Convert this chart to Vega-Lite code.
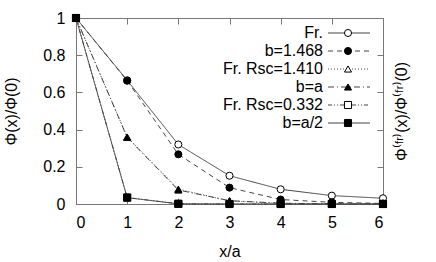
{
  "$schema": "https://vega.github.io/schema/vega-lite/v6.json",
  "autosize": "none",
  "width": 307,
  "height": 186,
  "padding": {"left": 76, "top": 18, "right": 53, "bottom": 58},
  "background": "white",
  "config": {
    "font": "Liberation Sans",
    "view": {"stroke": null},
    "axis": {
      "labelFont": "Liberation Sans", "titleFont": "Liberation Sans",
      "labelFontSize": 16, "titleFontSize": 16, "titleFontWeight": "normal",
      "labelColor": "#000", "titleColor": "#000",
      "domainColor": "#777", "tickColor": "#777", "tickSize": -6, "grid": false
    },
    "legend": {"labelFont": "Liberation Sans", "labelFontSize": 16, "labelColor": "#000"}
  },
  "data": {"values": [
    {"series": "Fr.", "x": 0, "y": 1}, {"series": "Fr.", "x": 1, "y": 0.665}, {"series": "Fr.", "x": 2, "y": 0.32}, {"series": "Fr.", "x": 3, "y": 0.152}, {"series": "Fr.", "x": 4, "y": 0.079}, {"series": "Fr.", "x": 5, "y": 0.045}, {"series": "Fr.", "x": 6, "y": 0.031},
    {"series": "b=1.468", "x": 0, "y": 1}, {"series": "b=1.468", "x": 1, "y": 0.663}, {"series": "b=1.468", "x": 2, "y": 0.267}, {"series": "b=1.468", "x": 3, "y": 0.088}, {"series": "b=1.468", "x": 4, "y": 0.024}, {"series": "b=1.468", "x": 5, "y": 0.009}, {"series": "b=1.468", "x": 6, "y": 0.003},
    {"series": "Fr. Rsc=1.410", "x": 0, "y": 1}, {"series": "Fr. Rsc=1.410", "x": 1, "y": 0.36}, {"series": "Fr. Rsc=1.410", "x": 2, "y": 0.08}, {"series": "Fr. Rsc=1.410", "x": 3, "y": 0.016}, {"series": "Fr. Rsc=1.410", "x": 4, "y": 0.004}, {"series": "Fr. Rsc=1.410", "x": 5, "y": 0.001}, {"series": "Fr. Rsc=1.410", "x": 6, "y": 0},
    {"series": "b=a", "x": 0, "y": 1}, {"series": "b=a", "x": 1, "y": 0.358}, {"series": "b=a", "x": 2, "y": 0.075}, {"series": "b=a", "x": 3, "y": 0.018}, {"series": "b=a", "x": 4, "y": 0.004}, {"series": "b=a", "x": 5, "y": 0.001}, {"series": "b=a", "x": 6, "y": 0},
    {"series": "Fr. Rsc=0.332", "x": 0, "y": 1}, {"series": "Fr. Rsc=0.332", "x": 1, "y": 0.035}, {"series": "Fr. Rsc=0.332", "x": 2, "y": 0.001}, {"series": "Fr. Rsc=0.332", "x": 3, "y": 0}, {"series": "Fr. Rsc=0.332", "x": 4, "y": 0}, {"series": "Fr. Rsc=0.332", "x": 5, "y": 0}, {"series": "Fr. Rsc=0.332", "x": 6, "y": 0},
    {"series": "b=a/2", "x": 0, "y": 1}, {"series": "b=a/2", "x": 1, "y": 0.034}, {"series": "b=a/2", "x": 2, "y": 0.001}, {"series": "b=a/2", "x": 3, "y": 0}, {"series": "b=a/2", "x": 4, "y": 0}, {"series": "b=a/2", "x": 5, "y": 0}, {"series": "b=a/2", "x": 6, "y": 0}
  ]},
  "layer": [
    {
      "mark": {"type": "line", "color": "#444", "strokeWidth": 1},
      "encoding": {
        "x": {"field": "x", "type": "quantitative", "scale": {"domain": [0, 6], "nice": false},
              "axis": {"orient": "bottom", "title": "x/a", "values": [0,1,2,3,4,5,6], "labelPadding": 16, "titlePadding": 13}},
        "y": {"field": "y", "type": "quantitative", "scale": {"domain": [0, 1], "nice": false},
              "axis": {"orient": "left", "title": "Φ(x)/Φ(0)", "values": [0,0.2,0.4,0.6,0.8,1], "format": "~g", "labelPadding": 17, "titlePadding": 23}},
        "strokeDash": {"field": "series", "type": "nominal",
          "sort": ["Fr.", "b=1.468", "Fr. Rsc=1.410", "b=a", "Fr. Rsc=0.332", "b=a/2"],
          "scale": {"range": [[1,0], [5,4], [1,2], [6,3,1,3], [4,2,1,2,1,2], [1,0]]},
          "legend": {"title": null, "orient": "none", "legendX": 265, "legendY": 7, "symbolType": "M-7,0H7",
                     "symbolSize": 36, "symbolStrokeColor": "#444", "symbolStrokeWidth": 1, "symbolFillColor": "transparent",
                     "labelAlign": "right", "labelOffset": -34, "rowPadding": 2, "padding": 0}}
      }
    },
    {
      "mark": {"type": "point", "filled": true, "stroke": "#000", "strokeWidth": 1, "opacity": 1, "size": 50},
      "encoding": {
        "x": {"field": "x", "type": "quantitative",
              "axis": {"orient": "top", "title": null, "labels": false, "values": [0,1,2,3,4,5,6]}},
        "y": {"field": "y", "type": "quantitative",
              "axis": {"orient": "right", "title": "Φ⁽ᶠʳ⁾(x)/Φ⁽ᶠʳ⁾(0)", "labels": false, "values": [0,0.2,0.4,0.6,0.8,1], "titleAngle": 270, "titlePadding": 26}},
        "shape": {"field": "series", "type": "nominal",
          "scale": {"domain": ["Fr.", "b=1.468", "Fr. Rsc=1.410", "b=a", "Fr. Rsc=0.332", "b=a/2"],
                    "range": ["circle", "circle", "triangle-up", "triangle-up", "square", "square"]},
          "legend": {"title": null, "orient": "none", "legendX": 264, "legendY": 7, "labelExpr": "' '",
                     "labelOpacity": 0, "symbolStrokeColor": "#000", "symbolStrokeWidth": 1, "symbolSize": 50, "symbolOpacity": 1, "rowPadding": 2, "padding": 0,
                     "encode": {"symbols": {"update": {"stroke": {"value": "#000"}, "strokeWidth": {"value": 1}, "opacity": {"value": 1}}}}}},
        "fill": {"field": "series", "type": "nominal",
          "scale": {"domain": ["Fr.", "b=1.468", "Fr. Rsc=1.410", "b=a", "Fr. Rsc=0.332", "b=a/2"],
                    "range": ["white", "black", "white", "black", "white", "black"]},
          "legend": {"title": null, "orient": "none", "legendX": 264, "legendY": 7, "labelExpr": "' '",
                     "labelOpacity": 0, "symbolStrokeColor": "#000", "symbolStrokeWidth": 1, "symbolSize": 50, "symbolOpacity": 1, "rowPadding": 2, "padding": 0,
                     "encode": {"symbols": {"update": {"stroke": {"value": "#000"}, "strokeWidth": {"value": 1}, "opacity": {"value": 1}}}}}}
      }
    }
  ],
  "resolve": {"scale": {"x": "shared", "y": "shared"}, "axis": {"x": "independent", "y": "independent"}}
}
